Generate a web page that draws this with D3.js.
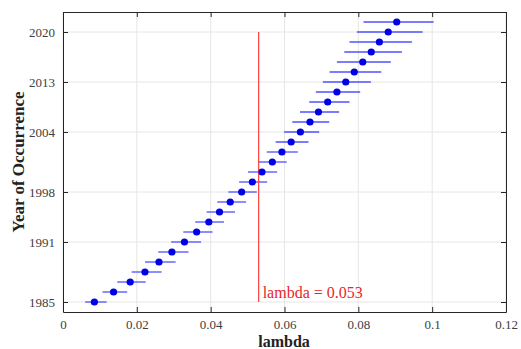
<html>
<script src="https://d3js.org/d3.v7.min.js"></script>
<body style="margin:0;background:#fff">
<svg width="521" height="349"></svg>
<script>
// lambda estimates per year (index order, bottom to top)
const lambdaMid = [0.0085,0.0137,0.0182,0.0222,0.0260,0.0295,0.0329,0.0362,0.0395,0.0424,
  0.0453,0.0484,0.0513,0.0539,0.0567,0.0593,0.0618,0.0643,0.0669,0.0692,
  0.0717,0.0742,0.0766,0.0789,0.0812,0.0835,0.0857,0.0881,0.0904];
const lambdaLo = [0.0060,0.0107,0.0147,0.0186,0.0222,0.0258,0.0293,0.0326,0.0358,0.0389,
  0.0418,0.0448,0.0477,0.0501,0.0528,0.0552,0.0576,0.0599,0.0621,0.0642,
  0.0667,0.0685,0.0704,0.0722,0.0742,0.0762,0.0776,0.0796,0.0814];
const lambdaHi = [0.0118,0.0174,0.0224,0.0267,0.0305,0.0340,0.0374,0.0405,0.0436,0.0466,
  0.0496,0.0525,0.0553,0.0580,0.0606,0.0636,0.0665,0.0694,0.0721,0.0748,
  0.0776,0.0805,0.0834,0.0862,0.0888,0.0918,0.0945,0.0974,0.1004];
const yTickIdx = [0, 6, 11, 17, 22, 27];
const yTickLabels = ["1985", "1991", "1998", "2004", "2013", "2020"];
const xTicks = [0, 0.02, 0.04, 0.06, 0.08, 0.1, 0.12];
const refLambda = 0.053;
const refSpan = [0, 27];

const svg = d3.select("svg");
const pLeft = 63, pRight = 506, pTop = 12, pBottom = 312;
const serif = "'Liberation Serif', 'Times New Roman', serif";

const x = d3.scaleLinear().domain([0, 0.12]).range([pLeft, pRight]);
const y = d3.scaleLinear().domain([-1, 29]).range([pBottom, pTop]);

// grid
svg.append("g").selectAll("line").data(xTicks).enter().append("line")
  .attr("x1", d => x(d)).attr("x2", d => x(d))
  .attr("y1", pTop).attr("y2", pBottom)
  .style("stroke", "#e6e6e6").style("stroke-width", 1);
svg.append("g").selectAll("line").data(yTickIdx).enter().append("line")
  .attr("x1", pLeft).attr("x2", pRight)
  .attr("y1", d => y(d)).attr("y2", d => y(d))
  .style("stroke", "#e6e6e6").style("stroke-width", 1);

// axes
const fmtX = d => d === 0 ? "0" : d3.format("~g")(d);
const axB = svg.append("g").attr("transform", "translate(0," + pBottom + ")")
  .call(d3.axisBottom(x).tickValues(xTicks).tickFormat(fmtX).tickSizeInner(-5).tickSizeOuter(0).tickPadding(8));
const axT = svg.append("g").attr("transform", "translate(0," + pTop + ")")
  .call(d3.axisTop(x).tickValues(xTicks).tickFormat("").tickSizeInner(-5).tickSizeOuter(0));
const axL = svg.append("g").attr("transform", "translate(" + pLeft + ",0)")
  .call(d3.axisLeft(y).tickValues(yTickIdx).tickFormat((d, i) => yTickLabels[i]).tickSizeInner(-5).tickSizeOuter(0).tickPadding(8));
const axR = svg.append("g").attr("transform", "translate(" + pRight + ",0)")
  .call(d3.axisRight(y).tickValues(yTickIdx).tickFormat("").tickSizeInner(-5).tickSizeOuter(0));

[axB, axT, axL, axR].forEach(a => {
  a.select(".domain").style("stroke", "#262626");
  a.selectAll(".tick line").style("stroke", "#262626");
  a.selectAll("text").style("font-family", serif).style("font-size", "13px").style("fill", "#404040");
});

// error bars
svg.append("g").selectAll("line").data(lambdaMid).enter().append("line")
  .attr("x1", (d, i) => x(lambdaLo[i])).attr("x2", (d, i) => x(lambdaHi[i]))
  .attr("y1", (d, i) => y(i)).attr("y2", (d, i) => y(i))
  .style("stroke", "#5050ff").style("stroke-width", 1.3);

// reference line
svg.append("line")
  .attr("x1", x(refLambda)).attr("x2", x(refLambda))
  .attr("y1", y(refSpan[1])).attr("y2", y(refSpan[0]))
  .style("stroke", "#ff4040").style("stroke-width", 1.2);

// points
svg.append("g").selectAll("circle").data(lambdaMid).enter().append("circle")
  .attr("cx", d => x(d)).attr("cy", (d, i) => y(i)).attr("r", 3.6)
  .style("fill", "#0000e6");

svg.append("text")
  .attr("x", x(refLambda) + 4).attr("y", y(0) - 4)
  .style("font-family", serif).style("font-size", "16px").style("fill", "#e8262a")
  .text("lambda = " + refLambda);

// labels
svg.append("text")
  .attr("x", 284).attr("y", 347)
  .attr("text-anchor", "middle")
  .style("font-family", serif).style("font-size", "16px").style("font-weight", "bold").style("fill", "#222")
  .text("lambda");
svg.append("text")
  .attr("transform", "translate(24," + ((pTop + pBottom) / 2) + ") rotate(-90)")
  .attr("text-anchor", "middle")
  .style("font-family", serif).style("font-size", "17px").style("font-weight", "bold").style("fill", "#222")
  .text("Year of Occurrence");
</script>
</body>
</html>
